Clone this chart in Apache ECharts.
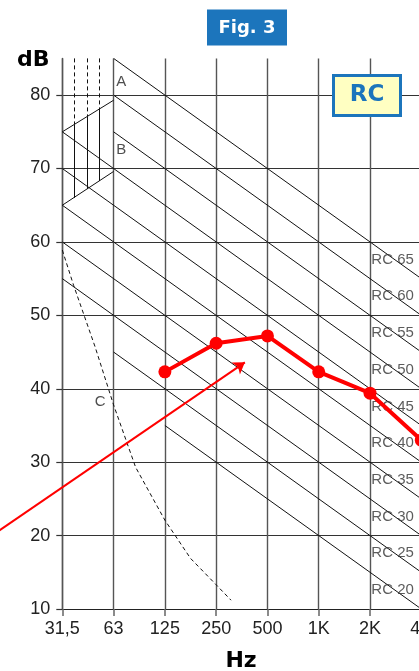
<!DOCTYPE html>
<html><head><meta charset="utf-8">
<script src="https://cdn.jsdelivr.net/npm/echarts@6/dist/echarts.min.js"></script>
<style>html,body{margin:0;padding:0;background:#fff;overflow:hidden}#c{width:419px;height:671px;}</style>
</head><body><div id="c"></div>
<script>
// ---- data (x = octave index: 0 = 31,5 Hz ... 7 = 4 kHz) ----
const freqLabels = ['31,5','63','125','250','500','1K','2K','4K'];
const yTickValues = [10,20,30,40,50,60,70,80];

const measuredBands = ['125','250','500','1K','2K','4K'];
const measuredDb    = [42.3, 46.2, 47.2, 42.3, 39.4, 33.0];

const rcNames   = ['RC 65','RC 60','RC 55','RC 50','RC 45','RC 40','RC 35','RC 30','RC 25','RC 20'];
const rcStartX  = [1, 1, 1, 0, 0, 0, 0, 0, 1, 2];
const rcStartDb = [85, 80, 75, 75, 70, 65, 60, 55, 45, 35];
const rcEndX    = [7, 7, 7, 7, 7, 7, 7, 7, 7, 7];
const rcEndDb   = [55, 50, 45, 40, 35, 30, 25, 20, 15, 10];
const rcLabelX  = 6.44;
const rcLabelDb = [57.6, 52.6, 47.6, 42.6, 37.6, 32.6, 27.6, 22.6, 17.6, 12.6];

const curveCX  = [0, 0.22, 0.64, 1, 1.43, 2, 2.5, 3, 3.29];
const curveCDb = [58.9, 54.1, 45.7, 37.8, 29.3, 22.1, 16.9, 13.3, 11.2];

const boundX       = [0, 1];
const boundUpperDb = [75, 79.3];
const boundLowerDb = [65, 69.6];

const hatchX      = [0.23, 0.48, 0.73];
const hatchTopDb  = [85, 85, 85];
const hatchMidDb  = [76.0, 77.1, 78.1];
const hatchLowDb  = [66.0, 67.2, 68.3];

const regionNames = ['A', 'B', 'C'];
const regionX     = [1.15, 1.15, 0.74];
const regionDb    = [81.8, 72.6, 38.2];

const arrowFrom = [-1.25, 20.6];
const arrowTo   = [3.56, 43.6];

// ---- chart ----
const FONT = 'Liberation Sans';
const BLUE = '#1c75bc';
const chart = echarts.init(document.getElementById('c'), null, {renderer: 'canvas'});

const series = [];
rcNames.forEach((n, i) => {
  series.push({
    type: 'line', name: n, silent: true, symbol: 'none', z: 2,
    data: [[rcStartX[i], rcStartDb[i]], [rcEndX[i], rcEndDb[i]]],
    lineStyle: {color: '#111', width: 1}
  });
});
series.push({type:'line', silent:true, symbol:'none', z:2,
  data: boundX.map((x,i)=>[x, boundUpperDb[i]]), lineStyle:{color:'#111', width:1}});
series.push({type:'line', silent:true, symbol:'none', z:2,
  data: boundX.map((x,i)=>[x, boundLowerDb[i]]), lineStyle:{color:'#111', width:1}});
const hatchData = [];
hatchX.forEach((x,i)=>{
  hatchData.push({coords:[[x, hatchTopDb[i]],[x, hatchMidDb[i]]], lineStyle:{type:[4,3]}});
  hatchData.push({coords:[[x, hatchMidDb[i]],[x, hatchLowDb[i]]], lineStyle:{type:'solid'}});
});
series.push({type:'lines', coordinateSystem:'cartesian2d', silent:true, z:2,
  lineStyle:{color:'#111', width:1, opacity:1}, data: hatchData});
series.push({type:'line', silent:true, symbol:'none', z:2,
  data: curveCX.map((x,i)=>[x, curveCDb[i]]), lineStyle:{color:'#111', width:1, type:[4,3]}});
series.push({type:'scatter', silent:true, symbolSize:1, itemStyle:{color:'rgba(0,0,0,0)'}, z:4,
  data: rcNames.map((n,i)=>({name:n, value:[rcLabelX, rcLabelDb[i]]})),
  label:{show:true, position:'inside', formatter:p=>p.name, color:'#333', fontFamily:FONT, fontSize:15}});
series.push({type:'scatter', silent:true, symbolSize:1, itemStyle:{color:'rgba(0,0,0,0)'}, z:4,
  data: regionNames.map((n,i)=>({name:n, value:[regionX[i], regionDb[i]]})),
  label:{show:true, position:'inside', formatter:p=>p.name, color:'#222', fontFamily:FONT, fontSize:15}});
series.push({type:'line', silent:true, z:6,
  data: measuredBands.map((b,i)=>[freqLabels.indexOf(b), measuredDb[i]]),
  symbol:'circle', symbolSize:13, itemStyle:{color:'#ff0000'},
  lineStyle:{color:'#ff0000', width:4}});
series.push({type:'lines', coordinateSystem:'cartesian2d', silent:true, clip:false, z:7,
  symbol:['none','arrow'], symbolSize:11,
  lineStyle:{color:'#ff0000', width:2, opacity:1},
  data:[{coords:[arrowFrom, arrowTo]}]});

chart.setOption({
  animation: false,
  backgroundColor: '#fff',
  grid: {left: 62.3, top: 58.4, width: 359, height: 550.6, containLabel: false, outerBoundsMode: 'none'},
  xAxis: {
    type: 'value', min: 0, max: 7, interval: 1,
    axisLine: {show: true, onZero: false, lineStyle: {color: '#222', width: 1}},
    axisTick: {show: true, length: 7, lineStyle: {color: '#666', width: 1.5}},
    axisLabel: {formatter: v => freqLabels[v] ?? '', fontSize: 18, fontFamily: FONT, color: '#222', margin: 11, showMaxLabel: true, hideOverlap: false},
    splitLine: {show: true, lineStyle: {color: '#555', width: 1.4}}
  },
  yAxis: {
    type: 'value', min: 10, max: 85, interval: 5,
    axisLine: {show: true, lineStyle: {color: '#555', width: 1.4}},
    axisTick: {show: true, length: 6, customValues: yTickValues, lineStyle: {color: '#333', width: 1.2}},
    axisLabel: {customValues: yTickValues, formatter: v => (v % 10 === 0 && v < 85) ? String(v) : '',
      fontSize: 18, fontFamily: FONT, color: '#222', margin: 12},
    splitLine: {show: true, lineStyle: {color: '#333', width: 1.2}}
  },
  series: series,
  graphic: [
    {type:'rect', shape:{x:207, y:9.5, width:80, height:36}, style:{fill:BLUE}, z:100},
    {type:'text', x:247, y:28, style:{text:'Fig. 3', fill:'#fff', font:'bold 18px "DejaVu Sans"', align:'center', verticalAlign:'middle'}, z:101},
    {type:'text', x:17, y:60, style:{text:'dB', fill:'#000', font:'bold 22px "DejaVu Sans"', align:'left', verticalAlign:'middle'}, z:101},
    {type:'text', x:241, y:661, style:{text:'Hz', fill:'#000', font:'bold 22px "DejaVu Sans"', align:'center', verticalAlign:'middle'}, z:101},
    {type:'rect', shape:{x:333.5, y:75.5, width:67, height:40}, style:{fill:'#ffffc2', stroke:BLUE, lineWidth:3}, z:100},
    {type:'text', x:367, y:95.5, style:{text:'RC', fill:BLUE, font:'bold 23px "DejaVu Sans"', align:'center', verticalAlign:'middle'}, z:101}
  ]
});
</script></body></html>
